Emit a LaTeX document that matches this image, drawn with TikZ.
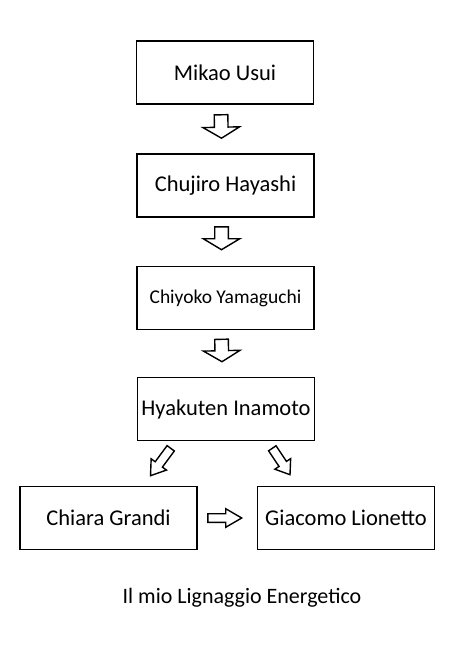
\documentclass[tikz,border=0pt]{standalone}
\usepackage{fontspec}
\setmainfont{Carlito}
\usetikzlibrary{calc}

% hollow block arrow from #1 to #2: body half width #3, head half width #4, head length #5
\newcommand{\blockarrow}[5]{%
  \coordinate (ba-h) at ($(#2)!#5!(#1)$);
  \draw[arrowline] ($(#1)!#3!90:(#2)$) -- ($(ba-h)!#3!90:(#2)$)
    -- ($(ba-h)!#4!90:(#2)$) -- (#2) -- ($(ba-h)!#4!-90:(#2)$)
    -- ($(ba-h)!#3!-90:(#2)$) -- ($(#1)!#3!-90:(#2)$) -- cycle;
}

\tikzset{
  person/.style={draw, line width=1.6pt, minimum width=177pt, minimum height=63pt,
    inner sep=2pt, font=\fontsize{22.5}{27}\selectfont},
  arrowline/.style={line width=1.4pt, line join=miter},
}

\begin{document}
\begin{tikzpicture}[x=1pt, y=-1pt]
    \useasboundingbox (0,0) rectangle (461,659);

    % ---- Lignaggio ----
    \node[person] (mikao) at (225,72.5) {Mikao Usui};
    \node[person] (chujiro) at (225.5,185.5) {Chujiro Hayashi};
    \node[person, font=\fontsize{19.5}{23}\selectfont] (chiyoko) at (225.5,298) {Chiyoko Yamaguchi};
    \node[person] (hyakuten) at (226,409) {Hyakuten Inamoto};
    \node[person] (chiara) at (108.5,518) {Chiara Grandi};
    \node[person] (giacomo) at (346,518) {Giacomo Lionetto};

    % ---- Frecce verticali ----
    \coordinate (a1) at ($(mikao.south)+(-4,10)$);
    \coordinate (b1) at ($(chujiro.north)+(-4,-15)$);
    \blockarrow{a1}{b1}{6.8pt}{18.3pt}{11pt}
    \coordinate (a2) at ($(chujiro.south)+(-4,9)$);
    \coordinate (b2) at ($(chiyoko.north)+(-4,-16)$);
    \blockarrow{a2}{b2}{6.8pt}{18.3pt}{11pt}
    \coordinate (a3) at ($(chiyoko.south)+(-4,9)$);
    \coordinate (b3) at ($(hyakuten.north)+(-4,-15)$);
    \blockarrow{a3}{b3}{6.8pt}{18.3pt}{11pt}

    % ---- Frecce oblique e orizzontale ----
    \coordinate (a4) at ($(hyakuten.south west)+(34,7)$);
    \coordinate (b4) at ($(chiara.north)+(42,-10)$);
    \blockarrow{a4}{b4}{4.5pt}{9.5pt}{14pt}
    \coordinate (a5) at ($(hyakuten.south east)+(-43,7)$);
    \coordinate (b5) at ($(giacomo.north)+(-56,-11)$);
    \blockarrow{a5}{b5}{4.5pt}{9.5pt}{13pt}
    \coordinate (a6) at ($(chiara.east)+(10,0)$);
    \coordinate (b6) at ($(giacomo.west)+(-15,0)$);
    \blockarrow{a6}{b6}{4.3pt}{9.3pt}{16pt}

    \node[font=\fontsize{22}{26}\selectfont] (titolo) at (242,598) {Il mio Lignaggio Energetico};
\end{tikzpicture}
\end{document}
